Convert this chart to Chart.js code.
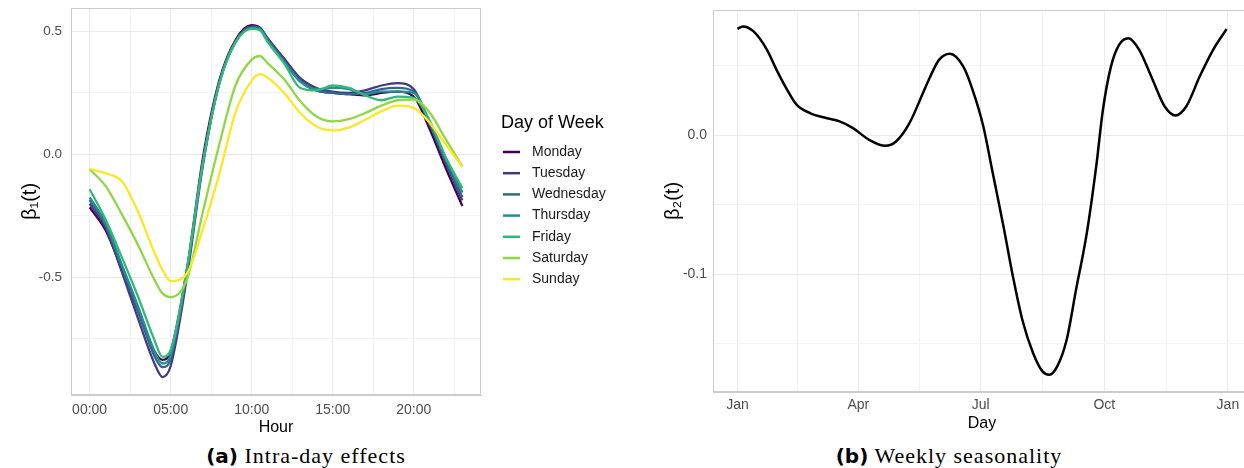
<!DOCTYPE html>
<html>
<head>
<meta charset="utf-8">
<script src="https://cdn.jsdelivr.net/npm/chart.js@4.4.1/dist/chart.umd.min.js"></script>
<style>
  html, body { margin: 0; padding: 0; background: #fff; overflow: hidden; }
  body { width: 1244px; height: 468px; position: relative; }
  #left { position: absolute; left: 0; top: 0; }
  #right { position: absolute; left: 640px; top: 0; }
  .cap { position: absolute; top: 443px; line-height: 26px; font-family: "Liberation Serif", serif; font-size: 22px;
         letter-spacing: 1px; text-align: center; color: #000; white-space: nowrap; }
  .cap b { font-family: "DejaVu Sans", sans-serif; font-size: 20px; letter-spacing: 0; }
</style>
</head>
<body>
<canvas id="left" width="640" height="440"></canvas>
<canvas id="right" width="620" height="440"></canvas>
<div class="cap" style="left:0;width:612px"><b>(a)</b> Intra-day effects</div>
<div class="cap" style="left:640px;width:618px"><b>(b)</b> Weekly seasonality</div>
<script>
// --- data: intra-day effects (left) ---
const hours = [0, 1, 2, 3, 4, 4.5, 5, 6, 7, 8, 9, 10, 10.5, 11, 12, 13, 14, 15, 16, 17, 18, 19, 20, 21, 22, 23];
const dayNames = ["Monday", "Tuesday", "Wednesday", "Thursday", "Friday", "Saturday", "Sunday"];
const dayColors = ["#440154", "#443A83", "#31688E", "#21908C", "#35B779", "#8FD744", "#FDE725"];

const monday    = [-0.215, -0.31, -0.47, -0.64, -0.80, -0.835, -0.80, -0.47, -0.01, 0.30, 0.465, 0.525, 0.515, 0.47, 0.385, 0.30, 0.26, 0.25, 0.245, 0.24, 0.25, 0.255, 0.235, 0.10, -0.06, -0.21];
const tuesday   = [-0.20, -0.30, -0.48, -0.67, -0.85, -0.905, -0.86, -0.50, -0.04, 0.29, 0.46, 0.52, 0.515, 0.47, 0.39, 0.31, 0.27, 0.255, 0.25, 0.26, 0.28, 0.29, 0.265, 0.12, -0.04, -0.187];
const wednesday = [-0.185, -0.29, -0.46, -0.64, -0.82, -0.865, -0.83, -0.48, -0.03, 0.29, 0.46, 0.515, 0.51, 0.465, 0.38, 0.30, 0.26, 0.25, 0.245, 0.25, 0.265, 0.27, 0.255, 0.12, -0.03, -0.174];
const thursday  = [-0.175, -0.28, -0.45, -0.62, -0.80, -0.85, -0.815, -0.47, -0.03, 0.29, 0.455, 0.515, 0.51, 0.46, 0.375, 0.295, 0.265, 0.27, 0.265, 0.245, 0.255, 0.255, 0.25, 0.13, -0.02, -0.155];
const friday    = [-0.142, -0.267, -0.42, -0.58, -0.755, -0.823, -0.795, -0.465, -0.03, 0.285, 0.455, 0.51, 0.505, 0.455, 0.37, 0.27, 0.26, 0.28, 0.27, 0.24, 0.22, 0.235, 0.23, 0.135, -0.015, -0.137];
const saturday  = [-0.06, -0.13, -0.245, -0.37, -0.51, -0.565, -0.58, -0.51, -0.23, 0.04, 0.28, 0.385, 0.40, 0.37, 0.305, 0.216, 0.154, 0.134, 0.143, 0.168, 0.198, 0.22, 0.223, 0.168, 0.059, -0.05];
const sunday    = [-0.06, -0.077, -0.11, -0.235, -0.40, -0.47, -0.515, -0.485, -0.30, -0.08, 0.17, 0.30, 0.326, 0.311, 0.25, 0.168, 0.113, 0.097, 0.109, 0.141, 0.175, 0.198, 0.189, 0.127, 0.038, -0.05];
const dayValues = [monday, tuesday, wednesday, thursday, friday, saturday, sunday];

const hourTicks = [0, 5, 10, 15, 20];
const hourTickLabels = ["00:00", "05:00", "10:00", "15:00", "20:00"];
const hourGrid = [0, 2.5, 5, 7.5, 10, 12.5, 15, 17.5, 20, 22.5];
const beta1Ticks = [-0.5, 0, 0.5];
const beta1TickLabels = ["-0.5", "0.0", "0.5"];
const beta1Grid = [-0.75, -0.5, -0.25, 0, 0.25, 0.5];

// --- data: weekly seasonality (right) ---
const days = [0, 4, 12, 22, 29, 37, 44, 54, 66, 76, 86, 98, 110, 118, 128, 138, 143, 150, 158, 168, 175, 183, 190, 198, 205, 212, 220, 227, 232, 238, 245, 252, 260, 267, 272, 278, 284, 291, 299, 309, 318, 326, 334, 344, 354, 364];
const beta2 = [0.0763, 0.078, 0.0744, 0.0612, 0.047, 0.0325, 0.0218, 0.0158, 0.0122, 0.0098, 0.005, -0.0034, -0.0077, -0.0046, 0.0086, 0.030, 0.041, 0.054, 0.0584, 0.0493, 0.0325, 0.0062, -0.0273, -0.0656, -0.1015, -0.1326, -0.1565, -0.1697, -0.1721, -0.1661, -0.147, -0.111, -0.0704, -0.0225, 0.0182, 0.0493, 0.0648, 0.0696, 0.0612, 0.0397, 0.0205, 0.0141, 0.0205, 0.042, 0.0612, 0.0761];

const monthTicks = [0, 90, 181, 273, 365];
const monthTickLabels = ["Jan", "Apr", "Jul", "Oct", "Jan"];
const monthGrid = [0, 45, 90, 135.5, 181, 227, 273, 319, 365];
const beta2Ticks = [-0.1, 0];
const beta2TickLabels = ["-0.1", "0.0"];
const beta2Grid = [-0.15, -0.1, -0.05, 0, 0.05];

Chart.defaults.font.family = '"Liberation Sans", "DejaVu Sans", sans-serif';

function findTick(list, v) {
  return list.findIndex(t => Math.abs(t - v) < 1e-6);
}

// fixed axis size, no extra label padding so the plot area stays put
function fixSize(prop, value) {
  return s => {
    s[prop] = value;
    s.paddingTop = 0;
    s.paddingBottom = 0;
    s.paddingLeft = 0;
    s.paddingRight = 0;
  };
}

// ggplot-like axis with major labels and lighter minor grid
function axis(min, max, grid, ticks, labels, size, pad, extra) {
  return Object.assign({
    type: "linear",
    min: min,
    max: max,
    afterBuildTicks: s => { s.ticks = grid.map(v => ({ value: v })); },
    ticks: {
      autoSkip: false,
      maxRotation: 0,
      padding: pad,
      color: "#4d4d4d",
      font: { size: size },
      callback: v => {
        const k = findTick(ticks, v);
        return k >= 0 ? labels[k] : "";
      },
    },
    grid: {
      drawTicks: false,
      color: ctx => (findTick(ticks, ctx.tick.value) >= 0 ? "#ebebeb" : "#f3f3f3"),
      lineWidth: 1,
    },
    border: { color: "#cccccc", width: 1 },
  }, extra);
}

const panelBorder = {
  id: "panelBorder",
  afterDatasetsDraw(chart) {
    const a = chart.chartArea;
    const ctx = chart.ctx;
    ctx.save();
    ctx.strokeStyle = "#cccccc";
    ctx.lineWidth = 1;
    ctx.strokeRect(a.left + 0.5, a.top + 0.5, a.right - a.left - 1, a.bottom - a.top - 1);
    ctx.restore();
  },
};

const dayLegend = {
  id: "dayLegend",
  afterDraw(chart) {
    const ctx = chart.ctx;
    ctx.save();
    ctx.textBaseline = "middle";
    ctx.fillStyle = "#000";
    ctx.font = '18px "Liberation Sans", sans-serif';
    ctx.fillText("Day of Week", 501, 123);
    ctx.font = '14px "Liberation Sans", sans-serif';
    chart.data.datasets.forEach((ds, i) => {
      const y = 152 + i * 21.2;
      ctx.strokeStyle = ds.borderColor;
      ctx.lineWidth = 2.5;
      ctx.beginPath();
      ctx.moveTo(503, y);
      ctx.lineTo(520, y);
      ctx.stroke();
      ctx.fillStyle = "#1a1a1a";
      ctx.fillText(ds.label, 532, y);
    });
    ctx.restore();
  },
};

new Chart(document.getElementById("left"), {
  type: "line",
  data: {
    datasets: dayNames.map((name, i) => ({
      label: name,
      data: hours.map((h, j) => ({ x: h, y: dayValues[i][j] })),
      borderColor: dayColors[i],
      backgroundColor: dayColors[i],
      borderWidth: 2.3,
      pointRadius: 0,
      cubicInterpolationMode: "monotone",
      order: dayNames.length - 1 - i,
    })),
  },
  options: {
    responsive: false,
    animation: false,
    layout: { padding: { left: 0, top: 8, right: 159, bottom: 0 } },
    plugins: { legend: { display: false }, tooltip: { enabled: false } },
    scales: {
      x: axis(-1.15, 24.15, hourGrid, hourTicks, hourTickLabels, 14, 7, {
        afterFit: fixSize("height", 45),
        title: { display: true, text: "Hour", color: "#000", font: { size: 16 }, padding: { top: 0, bottom: 3 } },
      }),
      y: axis(-0.978, 0.595, beta1Grid, beta1Ticks, beta1TickLabels, 13.5, 9, {
        afterFit: fixSize("width", 71),
        title: { display: true, text: "β₁(t)", color: "#000", font: { size: 20 }, padding: { top: 18, bottom: 0 } },
      }),
    },
  },
  plugins: [panelBorder, dayLegend],
});

new Chart(document.getElementById("right"), {
  type: "line",
  data: {
    datasets: [{
      label: "beta2",
      data: days.map((d, j) => ({ x: d, y: beta2[j] })),
      borderColor: "#000",
      borderWidth: 2.5,
      pointRadius: 0,
      cubicInterpolationMode: "monotone",
    }],
  },
  options: {
    responsive: false,
    animation: false,
    layout: { padding: { left: 0, top: 10, right: 9, bottom: 0 } },
    plugins: { legend: { display: false }, tooltip: { enabled: false } },
    scales: {
      x: axis(-18.2, 382.2, monthGrid, monthTicks, monthTickLabels, 14, 5, {
        afterFit: fixSize("height", 48),
        title: { display: true, text: "Day", color: "#000", font: { size: 16 }, padding: { top: 0, bottom: 7 } },
      }),
      y: axis(-0.1845, 0.0898, beta2Grid, beta2Ticks, beta2TickLabels, 14, 6, {
        afterFit: fixSize("width", 73),
        title: { display: true, text: "β₂(t)", color: "#000", font: { size: 20 }, padding: { top: 21, bottom: 0 } },
      }),
    },
  },
  plugins: [panelBorder],
});
</script>
</body>
</html>
